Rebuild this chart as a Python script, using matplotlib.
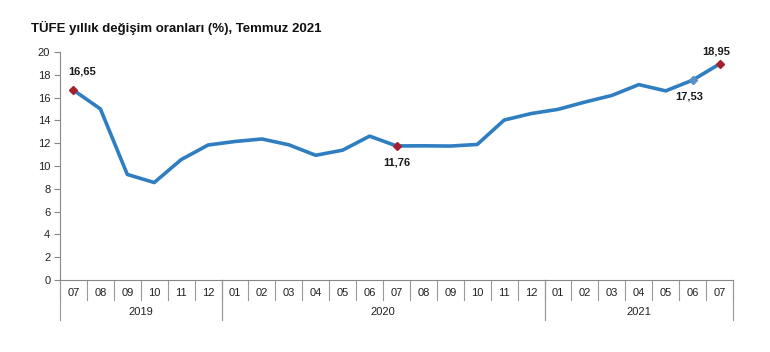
import matplotlib
matplotlib.use("Agg")
import matplotlib.pyplot as plt

plt.rcParams['font.family'] = ['Liberation Sans', 'DejaVu Sans']

months = ["07", "08", "09", "10", "11", "12",
          "01", "02", "03", "04", "05", "06", "07", "08", "09", "10", "11", "12",
          "01", "02", "03", "04", "05", "06", "07"]
years = ["2019", "2020", "2021"]
year_spans = [(0, 5), (6, 17), (18, 24)]
values = [16.65, 15.01, 9.26, 8.55, 10.56, 11.84,
          12.15, 12.37, 11.86, 10.94, 11.39, 12.62, 11.76, 11.77, 11.75, 11.89, 14.03, 14.60,
          14.97, 15.61, 16.19, 17.14, 16.59, 17.53, 18.95]
highlight_red = [0, 12, 24]
highlight_blue = [23]
labels = {0: "16,65", 12: "11,76", 23: "17,53", 24: "18,95"}
label_offsets = {0: (9, 19), 12: (0, -17), 23: (-3, -16), 24: (-3, 12)}

fig = plt.figure(figsize=(7.7, 3.52), dpi=100)
ax = fig.add_axes([60 / 770, 1 - 280 / 352, 673 / 770, 228 / 352])

x = list(range(len(values)))
line_col = "#2F7EC1"
ax.plot(x, values, color=line_col, lw=2.6, zorder=2)
ax.plot([x[i] for i in highlight_red], [values[i] for i in highlight_red],
        ls="none", marker="D", ms=4.5, color="#A3202E", zorder=3)
ax.plot([x[i] for i in highlight_blue], [values[i] for i in highlight_blue],
        ls="none", marker="D", ms=4.5, color="#5B8FC8", zorder=3)

for i, txt in labels.items():
    dx, dy = label_offsets[i]
    ax.annotate(txt, (x[i], values[i]), xytext=(dx, dy), textcoords="offset pixels",
                ha="center", va="center", fontsize=8, fontweight="bold", color="#1a1a1a")

ax.set_xlim(-0.5, len(values) - 0.5)
ax.set_ylim(0, 20)
ax.set_yticks(range(0, 21, 2))
ax.tick_params(axis="y", labelsize=8, length=4, color="#888888", labelcolor="#222222", pad=3)
ax.set_xticks([])
for s in ["top", "right"]:
    ax.spines[s].set_visible(False)
ax.spines["left"].set_color("#888888")
ax.spines["bottom"].set_color("#888888")

# category axis drawn under the plot
tr = ax.get_xaxis_transform()
mh = -20 / 228
yh = -40 / 228
for i in range(len(values) + 1):
    ax.plot([i - 0.5, i - 0.5], [0, mh], transform=tr, color="#999999", lw=0.8, clip_on=False)
for i, m in enumerate(months):
    ax.text(i, -13 / 228, m, transform=tr, ha="center", va="center", fontsize=8, color="#222222")
for yr, (a, b) in zip(years, year_spans):
    ax.plot([a - 0.5, a - 0.5], [0, yh], transform=tr, color="#999999", lw=0.8, clip_on=False)
    ax.plot([b + 0.5, b + 0.5], [0, yh], transform=tr, color="#999999", lw=0.8, clip_on=False)
    ax.text((a + b) / 2, -32 / 228, yr, transform=tr, ha="center", va="center",
            fontsize=8, color="#222222")

fig.text(31 / 770, 1 - 28 / 352, "TÜFE yıllık değişim oranları (%), Temmuz 2021",
         ha="left", va="center", fontsize=9.5, fontweight="bold", color="#111111")

fig.savefig("out.png", dpi=100)
